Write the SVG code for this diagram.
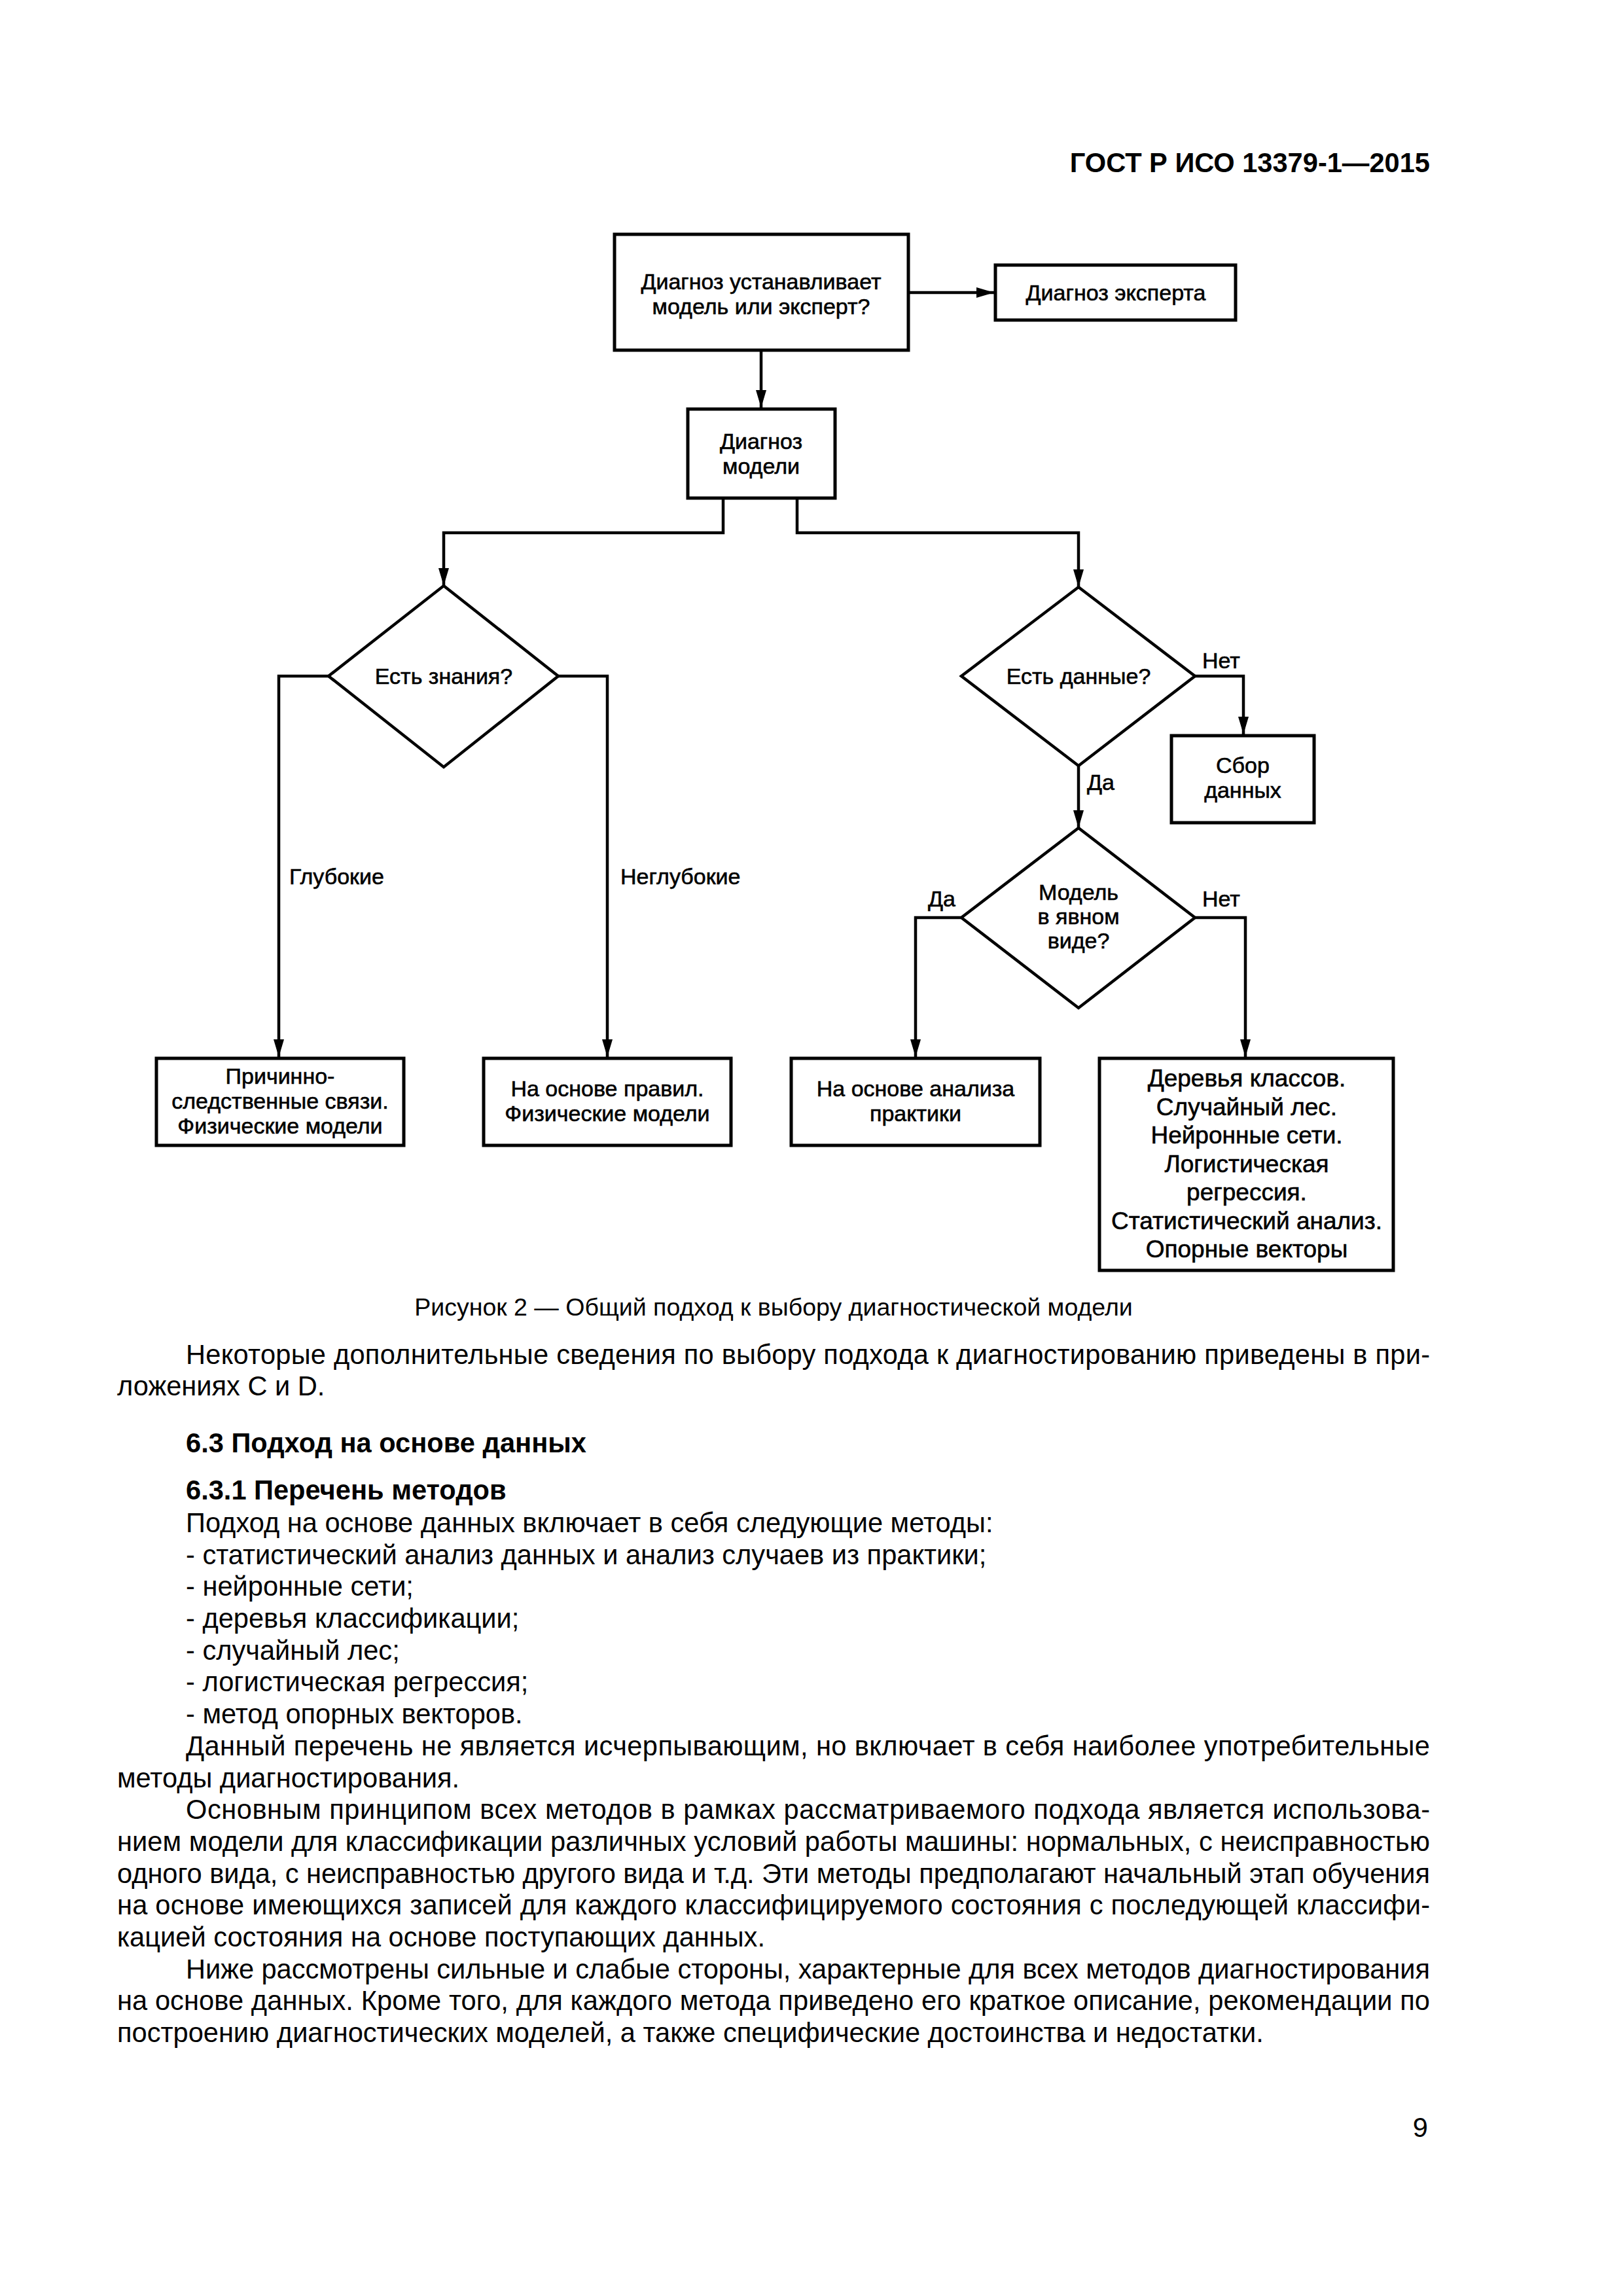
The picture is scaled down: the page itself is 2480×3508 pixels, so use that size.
<svg xmlns="http://www.w3.org/2000/svg" width="2480" height="3508" viewBox="0 0 2480 3508">
<style>
.bg{fill:#fff}
.box{fill:#fff;stroke:#000;stroke-width:5}
.dia{fill:#fff;stroke:#000;stroke-width:4.5;stroke-linejoin:miter}
.con{fill:none;stroke:#000;stroke-width:4.5}
.t{font-family:"Liberation Sans",Arial,sans-serif;font-size:34px;fill:#000;stroke:#000;stroke-width:0.6;text-anchor:middle}
.big{font-size:37px}
.lab{font-family:"Liberation Sans",Arial,sans-serif;font-size:34px;fill:#000;stroke:#000;stroke-width:0.6}
.body{font-family:"Liberation Sans",Arial,sans-serif;font-size:41.6px;fill:#000}
.bold{font-weight:bold}
.cap{font-family:"Liberation Sans",Arial,sans-serif;font-size:37.5px;fill:#000;text-anchor:middle}
</style>
<defs>
<marker id="arr" markerUnits="userSpaceOnUse" markerWidth="28" markerHeight="18" refX="27" refY="8" orient="auto">
<path d="M0,0 L27,8 L0,16 z" fill="#000"/>
</marker>
</defs>
<rect class="bg" x="0" y="0" width="2480" height="3508"/>

<text class="body bold" x="2185" y="263" text-anchor="end">ГОСТ Р ИСО 13379-1—2015</text>

<g id="connectors">
<path class="con" d="M1390,447 H1519" marker-end="url(#arr)"/>
<path class="con" d="M1163,537 V623" marker-end="url(#arr)"/>
<path class="con" d="M1105,763 V814 H678 V895" marker-end="url(#arr)"/>
<path class="con" d="M1218,763 V814 H1648 V897" marker-end="url(#arr)"/>
<path class="con" d="M502,1033 H426 V1615" marker-end="url(#arr)"/>
<path class="con" d="M853,1033 H928 V1615" marker-end="url(#arr)"/>
<path class="con" d="M1826,1033 H1900 V1122" marker-end="url(#arr)"/>
<path class="con" d="M1648,1170 V1265" marker-end="url(#arr)"/>
<path class="con" d="M1469,1402 H1399 V1615" marker-end="url(#arr)"/>
<path class="con" d="M1826,1402 H1903 V1615" marker-end="url(#arr)"/>
<text class="lab" x="442" y="1351">Глубокие</text>
<text class="lab" x="948" y="1351">Неглубокие</text>
<text class="lab" x="1837" y="1021">Нет</text>
<text class="lab" x="1661" y="1207">Да</text>
<text class="lab" x="1418" y="1385">Да</text>
<text class="lab" x="1837" y="1385">Нет</text>
</g>

<g id="node-question">
<rect class="box" x="939" y="358" width="449" height="177"/>
<text class="t" x="1163" y="442">Диагноз устанавливает</text>
<text class="t" x="1163" y="480">модель или эксперт?</text>
</g>
<g id="node-expert">
<rect class="box" x="1521" y="405" width="367" height="84"/>
<text class="t" x="1705" y="459">Диагноз эксперта</text>
</g>
<g id="node-model">
<rect class="box" x="1051" y="625" width="225" height="136"/>
<text class="t" x="1163" y="686">Диагноз</text>
<text class="t" x="1163" y="724">модели</text>
</g>
<g id="node-knowledge">
<polygon class="dia" points="678,895 853,1033 678,1172 502,1033"/>
<text class="t" x="678" y="1045">Есть знания?</text>
</g>
<g id="node-data">
<polygon class="dia" points="1648,897 1826,1033 1648,1170 1469,1033"/>
<text class="t" x="1648" y="1045">Есть данные?</text>
</g>
<g id="node-collect">
<rect class="box" x="1790" y="1124" width="218" height="133"/>
<text class="t" x="1899" y="1181">Сбор</text>
<text class="t" x="1899" y="1219">данных</text>
</g>
<g id="node-explicit">
<polygon class="dia" points="1648,1265 1826,1402 1648,1540 1469,1402"/>
<text class="t" x="1648" y="1375">Модель</text>
<text class="t" x="1648" y="1412">в явном</text>
<text class="t" x="1648" y="1449">виде?</text>
</g>
<g id="node-causal">
<rect class="box" x="239" y="1617" width="378" height="133"/>
<text class="t" x="428" y="1656">Причинно-</text>
<text class="t" x="428" y="1694">следственные связи.</text>
<text class="t" x="428" y="1732">Физические модели</text>
</g>
<g id="node-rules">
<rect class="box" x="739" y="1617" width="378" height="133"/>
<text class="t" x="928" y="1675">На основе правил.</text>
<text class="t" x="928" y="1713">Физические модели</text>
</g>
<g id="node-practice">
<rect class="box" x="1209" y="1617" width="380" height="133"/>
<text class="t" x="1399" y="1675">На основе анализа</text>
<text class="t" x="1399" y="1713">практики</text>
</g>
<g id="node-methods">
<rect class="box" x="1680" y="1617" width="449" height="324"/>
<text class="t big" x="1905" y="1660">Деревья классов.</text>
<text class="t big" x="1905" y="1704">Случайный лес.</text>
<text class="t big" x="1905" y="1747">Нейронные сети.</text>
<text class="t big" x="1905" y="1791">Логистическая</text>
<text class="t big" x="1905" y="1834">регрессия.</text>
<text class="t big" x="1905" y="1878">Статистический анализ.</text>
<text class="t big" x="1905" y="1921">Опорные векторы</text>
</g>

<g id="page-text">
<text class="cap" x="1182" y="2010">Рисунок 2 — Общий подход к выбору диагностической модели</text>
<text class="body" x="284" y="2084" textLength="1901" lengthAdjust="spacing">Некоторые дополнительные сведения по выбору подхода к диагностированию приведены в при-</text>
<text class="body" x="179" y="2132">ложениях С и D.</text>
<text class="body bold" x="284" y="2219">6.3 Подход на основе данных</text>
<text class="body bold" x="284" y="2291">6.3.1 Перечень методов</text>
<text class="body" x="284" y="2341">Подход на основе данных включает в себя следующие методы:</text>
<text class="body" x="284" y="2390">- статистический анализ данных и анализ случаев из практики;</text>
<text class="body" x="284" y="2438">- нейронные сети;</text>
<text class="body" x="284" y="2487">- деревья классификации;</text>
<text class="body" x="284" y="2536">- случайный лес;</text>
<text class="body" x="284" y="2584">- логистическая регрессия;</text>
<text class="body" x="284" y="2633">- метод опорных векторов.</text>
<text class="body" x="284" y="2682" textLength="1901" lengthAdjust="spacing">Данный перечень не является исчерпывающим, но включает в себя наиболее употребительные</text>
<text class="body" x="179" y="2731">методы диагностирования.</text>
<text class="body" x="284" y="2779" textLength="1901" lengthAdjust="spacing">Основным принципом всех методов в рамках рассматриваемого подхода является использова-</text>
<text class="body" x="179" y="2828" textLength="2006" lengthAdjust="spacing">нием модели для классификации различных условий работы машины: нормальных, с неисправностью</text>
<text class="body" x="179" y="2877" textLength="2006" lengthAdjust="spacing">одного вида, с неисправностью другого вида и т.д. Эти методы предполагают начальный этап обучения</text>
<text class="body" x="179" y="2925" textLength="2006" lengthAdjust="spacing">на основе имеющихся записей для каждого классифицируемого состояния с последующей классифи-</text>
<text class="body" x="179" y="2974">кацией состояния на основе поступающих данных.</text>
<text class="body" x="284" y="3023" textLength="1901" lengthAdjust="spacing">Ниже рассмотрены сильные и слабые стороны, характерные для всех методов диагностирования</text>
<text class="body" x="179" y="3071" textLength="2006" lengthAdjust="spacing">на основе данных. Кроме того, для каждого метода приведено его краткое описание, рекомендации по</text>
<text class="body" x="179" y="3120">построению диагностических моделей, а также специфические достоинства и недостатки.</text>
<text class="body" x="2182" y="3265" text-anchor="end">9</text>
</g>
</svg>
